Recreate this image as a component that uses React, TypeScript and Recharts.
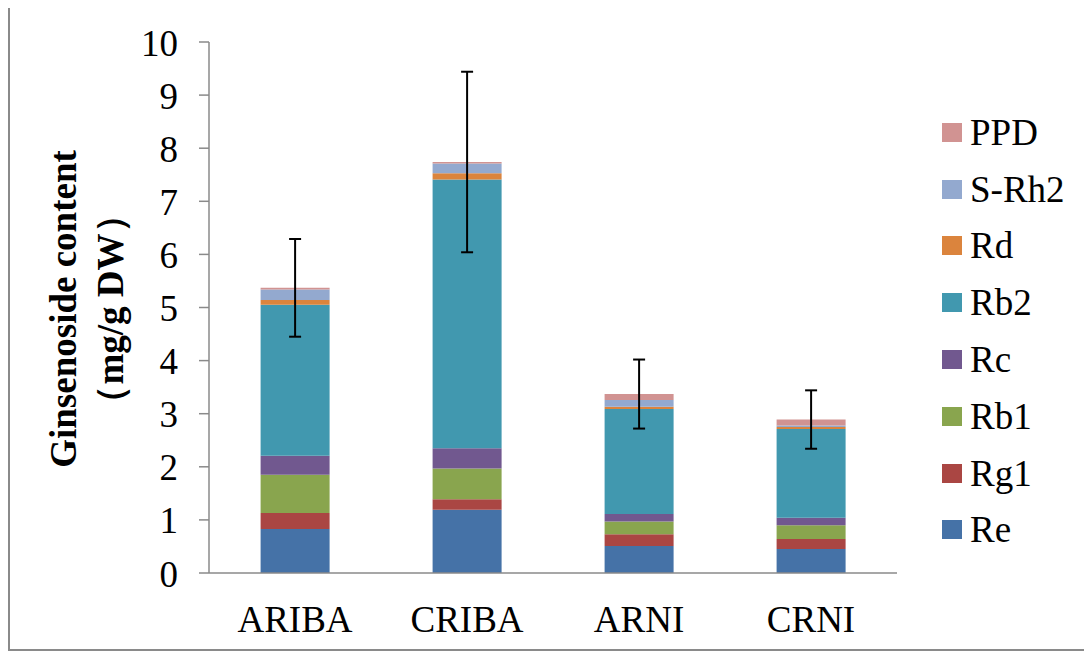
import React from 'react';
import { BarChart, Bar, XAxis, YAxis, Legend, ErrorBar } from 'recharts';

const categories = ['ARIBA', 'CRIBA', 'ARNI', 'CRNI'];
const reValues = [0.83, 1.19, 0.51, 0.45];
const rg1Values = [0.3, 0.2, 0.22, 0.19];
const rb1Values = [0.72, 0.58, 0.24, 0.26];
const rcValues = [0.36, 0.38, 0.14, 0.14];
const rb2Values = [2.84, 5.06, 1.98, 1.67];
const rdValues = [0.09, 0.12, 0.04, 0.04];
const sRh2Values = [0.2, 0.18, 0.13, 0.03];
const ppdValues = [0.03, 0.03, 0.11, 0.11];
const errorValues = [0.92, 1.7, 0.65, 0.55];

const seriesNames = ['Re', 'Rg1', 'Rb1', 'Rc', 'Rb2', 'Rd', 'S-Rh2', 'PPD'];
const seriesColors = ['#4572A7', '#AA4643', '#89A54E', '#71588F', '#4198AF', '#DB843D', '#93A9CF', '#D19392'];
const seriesValues = [reValues, rg1Values, rb1Values, rcValues, rb2Values, rdValues, sRh2Values, ppdValues];

const yTicks = [0, 1, 2, 3, 4, 5, 6, 7, 8, 9, 10];
const xBoundaryTicks = [0, 1, 2, 3, 4];

const data = categories.map((name, i) => {
  const row: Record<string, any> = { name, err: errorValues[i] };
  seriesNames.forEach((s, k) => {
    row[s] = seriesValues[k][i];
  });
  return row;
});

const FONT = '"Liberation Serif", "Times New Roman", Times, serif';
const AXIS = '#8a8a8a';

const YTick = (props: any) => (
  <text x={props.x} y={props.y} dy={13.5} textAnchor="end" fontSize={37} fontFamily={FONT} fill="#000">
    {props.payload.value}
  </text>
);

const XTick = (props: any) => (
  <text x={props.x} y={props.y} dy={59} textAnchor="middle" fontSize={37} fontFamily={FONT} fill="#000">
    {props.payload.value}
  </text>
);

const YLabel = () => (
  <g>
    <text
      x={66}
      y={302}
      transform="rotate(-90, 66, 302)"
      textAnchor="middle"
      fontSize={37}
      fontWeight="bold"
      fontFamily={FONT}
      fill="#000"
    >
      Ginsenoside content
    </text>
    <text
      x={112.5}
      y={302}
      transform="rotate(-90, 112.5, 302)"
      textAnchor="middle"
      fontSize={37}
      fontWeight="bold"
      fontFamily={FONT}
      fill="#000"
    >
      （mg/g DW）
    </text>
  </g>
);

const LegendContent = () => {
  const order = seriesNames.map((n, i) => ({ n, c: seriesColors[i] })).reverse();
  return (
    <div style={{ fontFamily: FONT, fontSize: 37, lineHeight: 1, color: '#000' }}>
      {order.map((e) => (
        <div key={e.n} style={{ height: 56.8, display: 'flex', alignItems: 'center' }}>
          <span style={{ display: 'inline-block', width: 20, height: 19, background: e.c, marginRight: 8 }} />
          <span style={{ whiteSpace: 'nowrap' }}>{e.n}</span>
        </div>
      ))}
    </div>
  );
};

export default function App() {
  return (
    <div
      style={{
        width: 1077,
        height: 642,
        border: '2px solid #8a8a8a',
        marginTop: -3,
        fontFamily: FONT,
        background: '#fff',
      }}
    >
      <BarChart
        width={1077}
        height={642}
        data={data}
        margin={{ top: 35, right: 190, bottom: 0, left: 0 }}
        barCategoryGap="30%"
      >
        <XAxis
          xAxisId="ticks"
          type="number"
          domain={[0, 4]}
          ticks={xBoundaryTicks}
          allowDataOverflow
          height={0}
          axisLine={false}
          tick={false}
          tickSize={11}
          tickLine={{ stroke: AXIS, strokeWidth: 1.5 }}
        />
        <XAxis
          xAxisId="cat"
          dataKey="name"
          height={76}
          axisLine={{ stroke: AXIS, strokeWidth: 1.5 }}
          tickLine={false}
          tickSize={0}
          tickMargin={0}
          interval={0}
          tick={<XTick />}
        />
        <YAxis
          width={199}
          domain={[0, 10]}
          ticks={yTicks}
          interval={0}
          allowDataOverflow
          axisLine={{ stroke: AXIS, strokeWidth: 1.5 }}
          tickLine={{ stroke: AXIS, strokeWidth: 1.5 }}
          tickSize={10}
          tickMargin={21}
          tick={<YTick />}
          label={<YLabel />}
        />
        <Legend
          layout="vertical"
          align="center"
          verticalAlign="middle"
          content={<LegendContent />}
          wrapperStyle={{ left: 932, top: 97, width: 140, bottom: 'auto', right: 'auto' }}
        />
        {seriesNames.map((s, k) => (
          <Bar
            key={s}
            dataKey={s}
            name={s}
            stackId="a"
            xAxisId="cat"
            fill={seriesColors[k]}
            isAnimationActive={false}
          >
            {k === seriesNames.length - 1 ? (
              <ErrorBar dataKey="err" width={6} strokeWidth={2} stroke="#000" direction="y" />
            ) : null}
          </Bar>
        ))}
      </BarChart>
    </div>
  );
}
